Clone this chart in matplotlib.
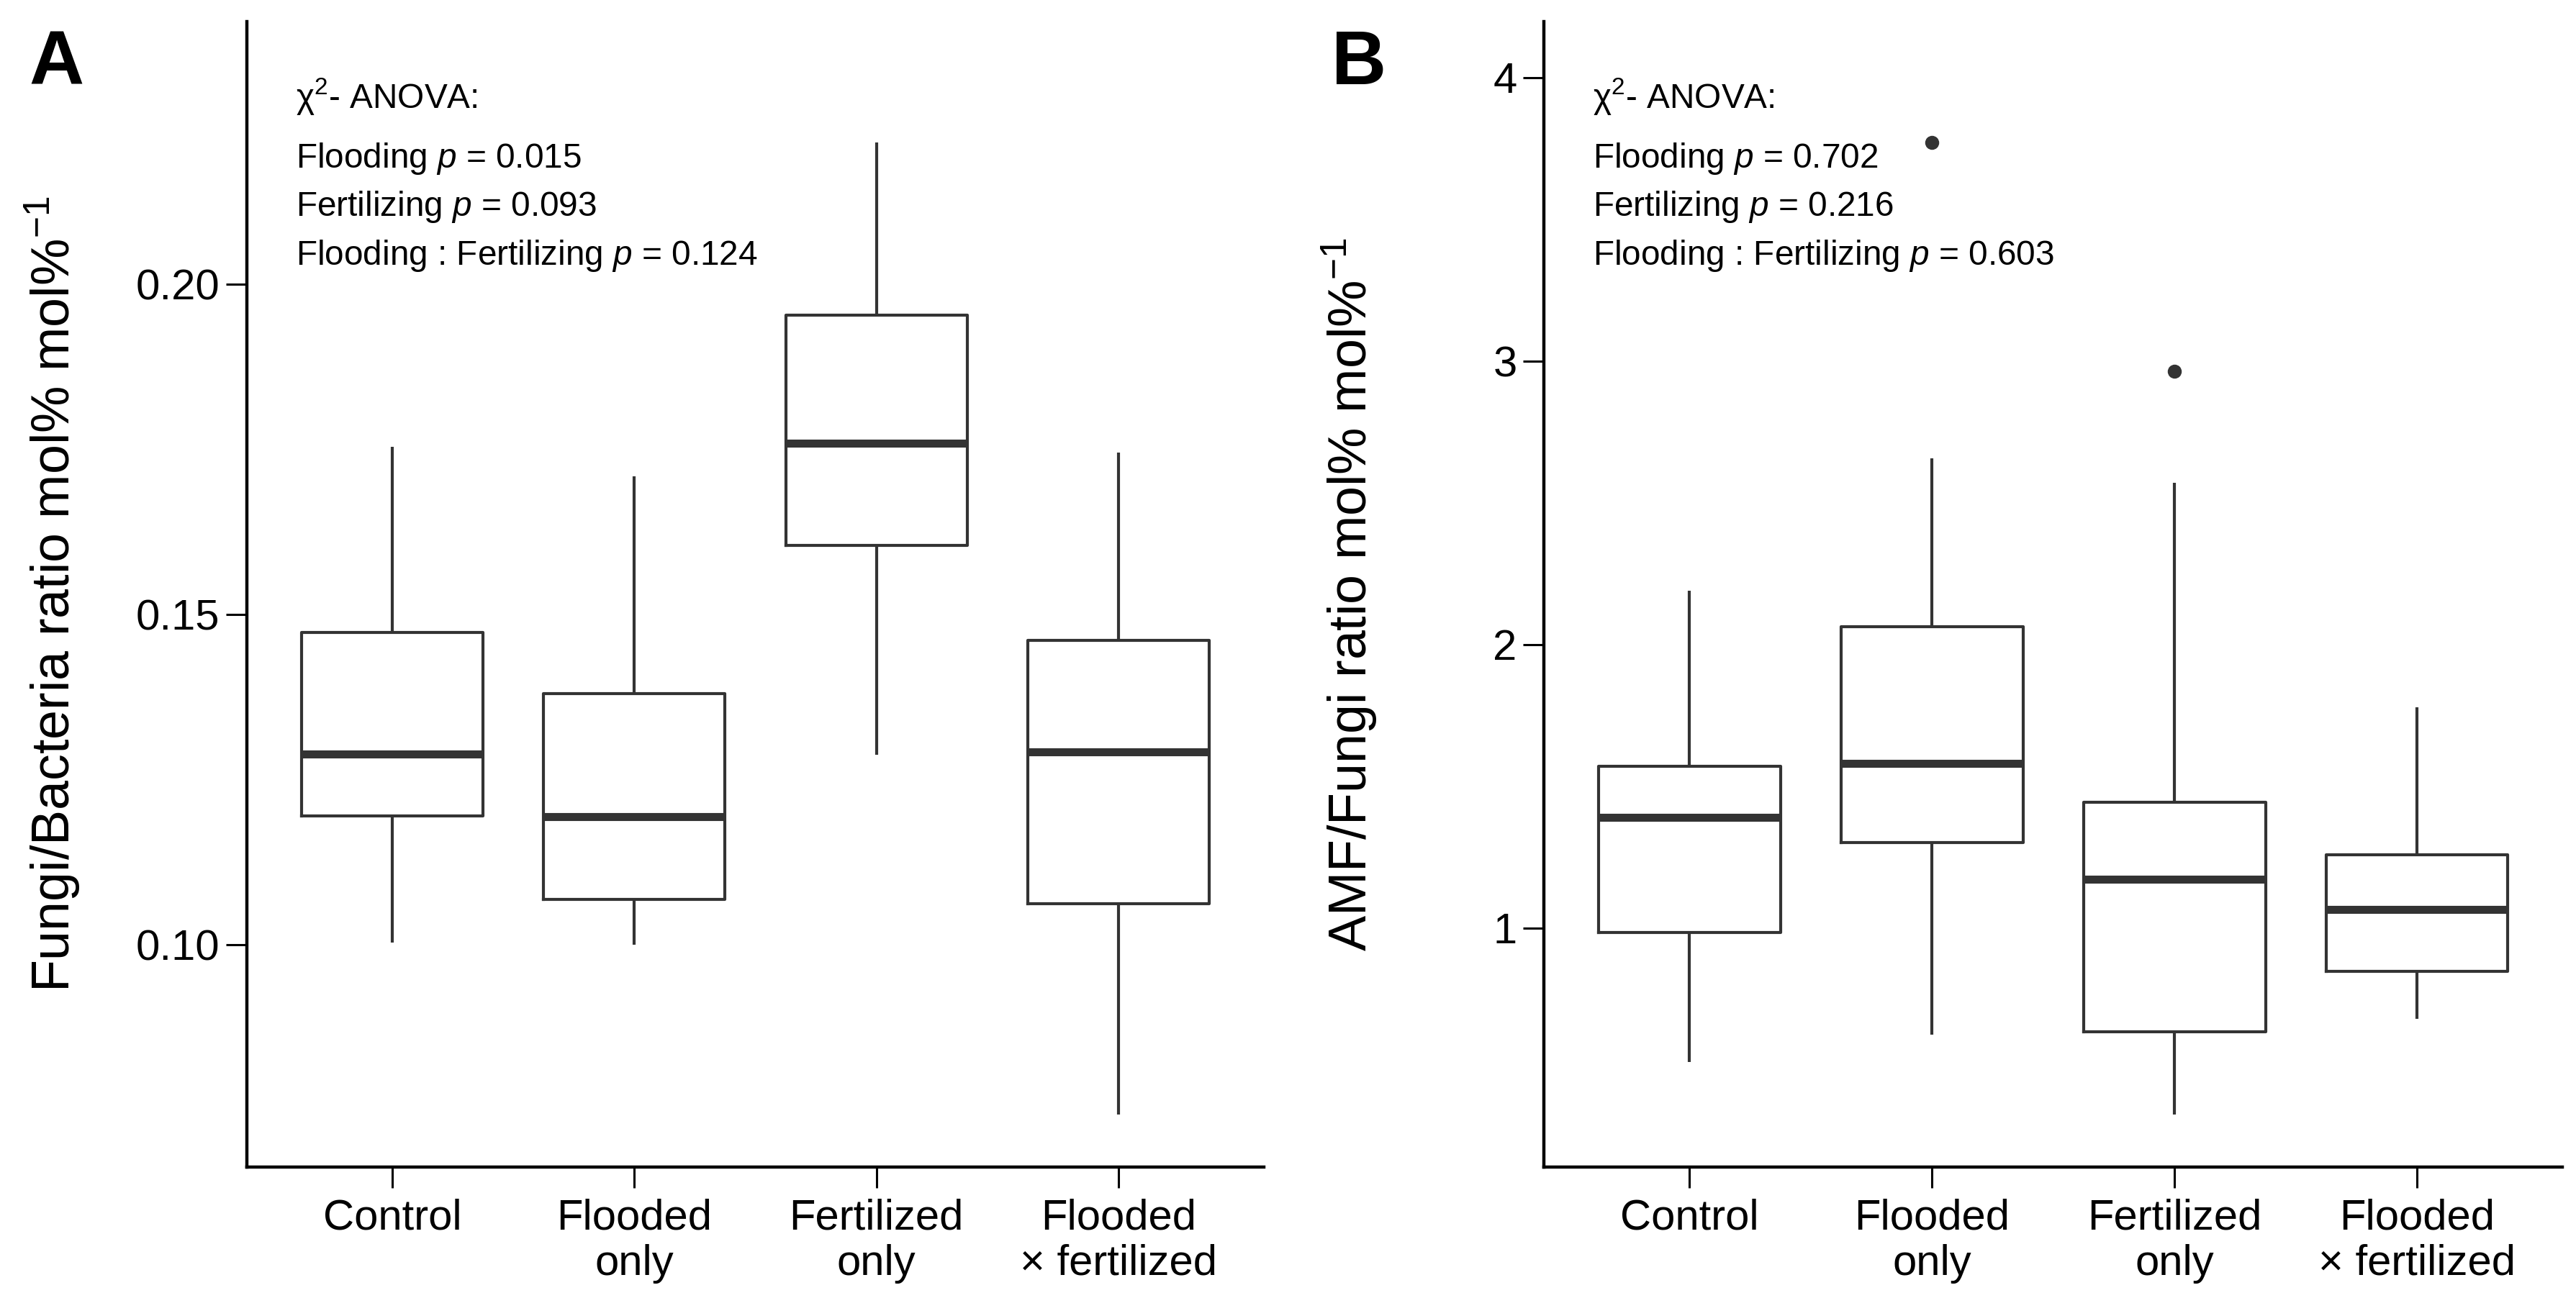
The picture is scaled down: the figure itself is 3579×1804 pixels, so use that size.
import matplotlib
matplotlib.use("Agg")
import matplotlib.pyplot as plt

plt.rcParams['font.family'] = ['Liberation Sans', 'DejaVu Sans']
plt.rcParams['mathtext.fontset'] = 'custom'
plt.rcParams['mathtext.rm'] = 'Liberation Sans'
plt.rcParams['mathtext.it'] = 'Liberation Sans:italic'
plt.rcParams['mathtext.sf'] = 'Liberation Sans'

groups = ['Control', 'Flooded\nonly', 'Fertilized\nonly', 'Flooded\n× fertilized']

# Panel A - fungi/bacteria ratio (box stats)
fb_whislo = [0.1004, 0.1000, 0.1288, 0.0743]
fb_q1 = [0.1196, 0.1069, 0.1605, 0.1063]
fb_med = [0.1289, 0.1194, 0.1760, 0.1292]
fb_q3 = [0.1473, 0.1381, 0.1954, 0.1461]
fb_whishi = [0.1754, 0.1710, 0.2215, 0.1746]
fb_fliers = [[], [], [], []]
fb_pvals = ['0.015', '0.093', '0.124']

# Panel B - AMF/fungi ratio
amf_whislo = [0.528, 0.624, 0.342, 0.680]
amf_q1 = [0.985, 1.302, 0.634, 0.848]
amf_med = [1.391, 1.582, 1.173, 1.066]
amf_q3 = [1.571, 2.062, 1.444, 1.259]
amf_whishi = [2.191, 2.656, 2.570, 1.780]
amf_fliers = [[], [3.772], [2.963], []]
amf_pvals = ['0.702', '0.216', '0.603']

terms = ['Flooding', 'Fertilizing', 'Flooding : Fertilizing']
dark = '#333333'


def make_stats(lo, q1, med, q3, hi, fliers):
    stats = []
    for i in range(len(med)):
        stats.append({'whislo': lo[i], 'q1': q1[i], 'med': med[i],
                      'q3': q3[i], 'whishi': hi[i], 'fliers': fliers[i]})
    return stats


def draw_panel(ax, stats, ylim, yticks, ylabel, pvals, letter, letter_x):
    line = dict(color=dark, linewidth=1.5, solid_capstyle='butt')
    ax.bxp(stats, positions=range(1, len(stats) + 1), widths=0.75,
           showcaps=False, boxprops=dict(color=dark, linewidth=1.5),
           whiskerprops=line,
           medianprops=dict(color=dark, linewidth=4, solid_capstyle='butt'),
           flierprops=dict(marker='o', markerfacecolor=dark,
                           markeredgecolor=dark, markersize=6))
    ax.set_xlim(0.4, 4.6)
    ax.set_ylim(*ylim)
    ax.set_yticks(yticks)
    ax.set_xticks(range(1, len(groups) + 1))
    ax.set_xticklabels(groups, linespacing=1.2)

    for side in ['top', 'right']:
        ax.spines[side].set_visible(False)
    for side in ['left', 'bottom']:
        ax.spines[side].set_linewidth(1.6)
        ax.spines[side].set_color('black')
    ax.tick_params(direction='out', length=10.5, width=1.1,
                   labelsize=21.5, colors='black')
    ax.tick_params(axis='y', pad=3)
    ax.tick_params(axis='x', pad=5)

    ax.set_ylabel(ylabel, fontsize=26.5)
    ax.yaxis.set_label_coords(-0.162, 0.5)

    # ANOVA results
    ax.text(0.048, 0.9246, 'χ$^{2}$- ANOVA:', transform=ax.transAxes,
            fontsize=17.2, va='baseline')
    ys = [0.8725, 0.8304, 0.7877]
    for term, p, y in zip(terms, pvals, ys):
        ax.text(0.048, y, term + r' $\mathit{p}$ = ' + p,
                transform=ax.transAxes, fontsize=17.2, va='baseline')

    ax.figure.text(letter_x, 0.9351, letter, fontsize=38,
                   fontweight='bold', va='baseline')


fig = plt.figure(figsize=(17.9, 9.02), dpi=200)
ax1 = fig.add_axes([0.0958, 0.1009, 0.3947, 0.8825])
ax2 = fig.add_axes([0.5992, 0.1009, 0.3953, 0.8825])

draw_panel(ax1, make_stats(fb_whislo, fb_q1, fb_med, fb_q3, fb_whishi, fb_fliers),
           (0.0664, 0.2398), [0.10, 0.15, 0.20],
           'Fungi/Bacteria ratio mol% mol%$^{-1}$', fb_pvals, 'A', 0.0112)
ax1.set_yticklabels(['0.10', '0.15', '0.20'])

draw_panel(ax2, make_stats(amf_whislo, amf_q1, amf_med, amf_q3, amf_whishi, amf_fliers),
           (0.157, 4.198), [1, 2, 3, 4],
           'AMF/Fungi ratio mol% mol%$^{-1}$', amf_pvals, 'B', 0.5168)

fig.savefig('out.png', dpi=200)
